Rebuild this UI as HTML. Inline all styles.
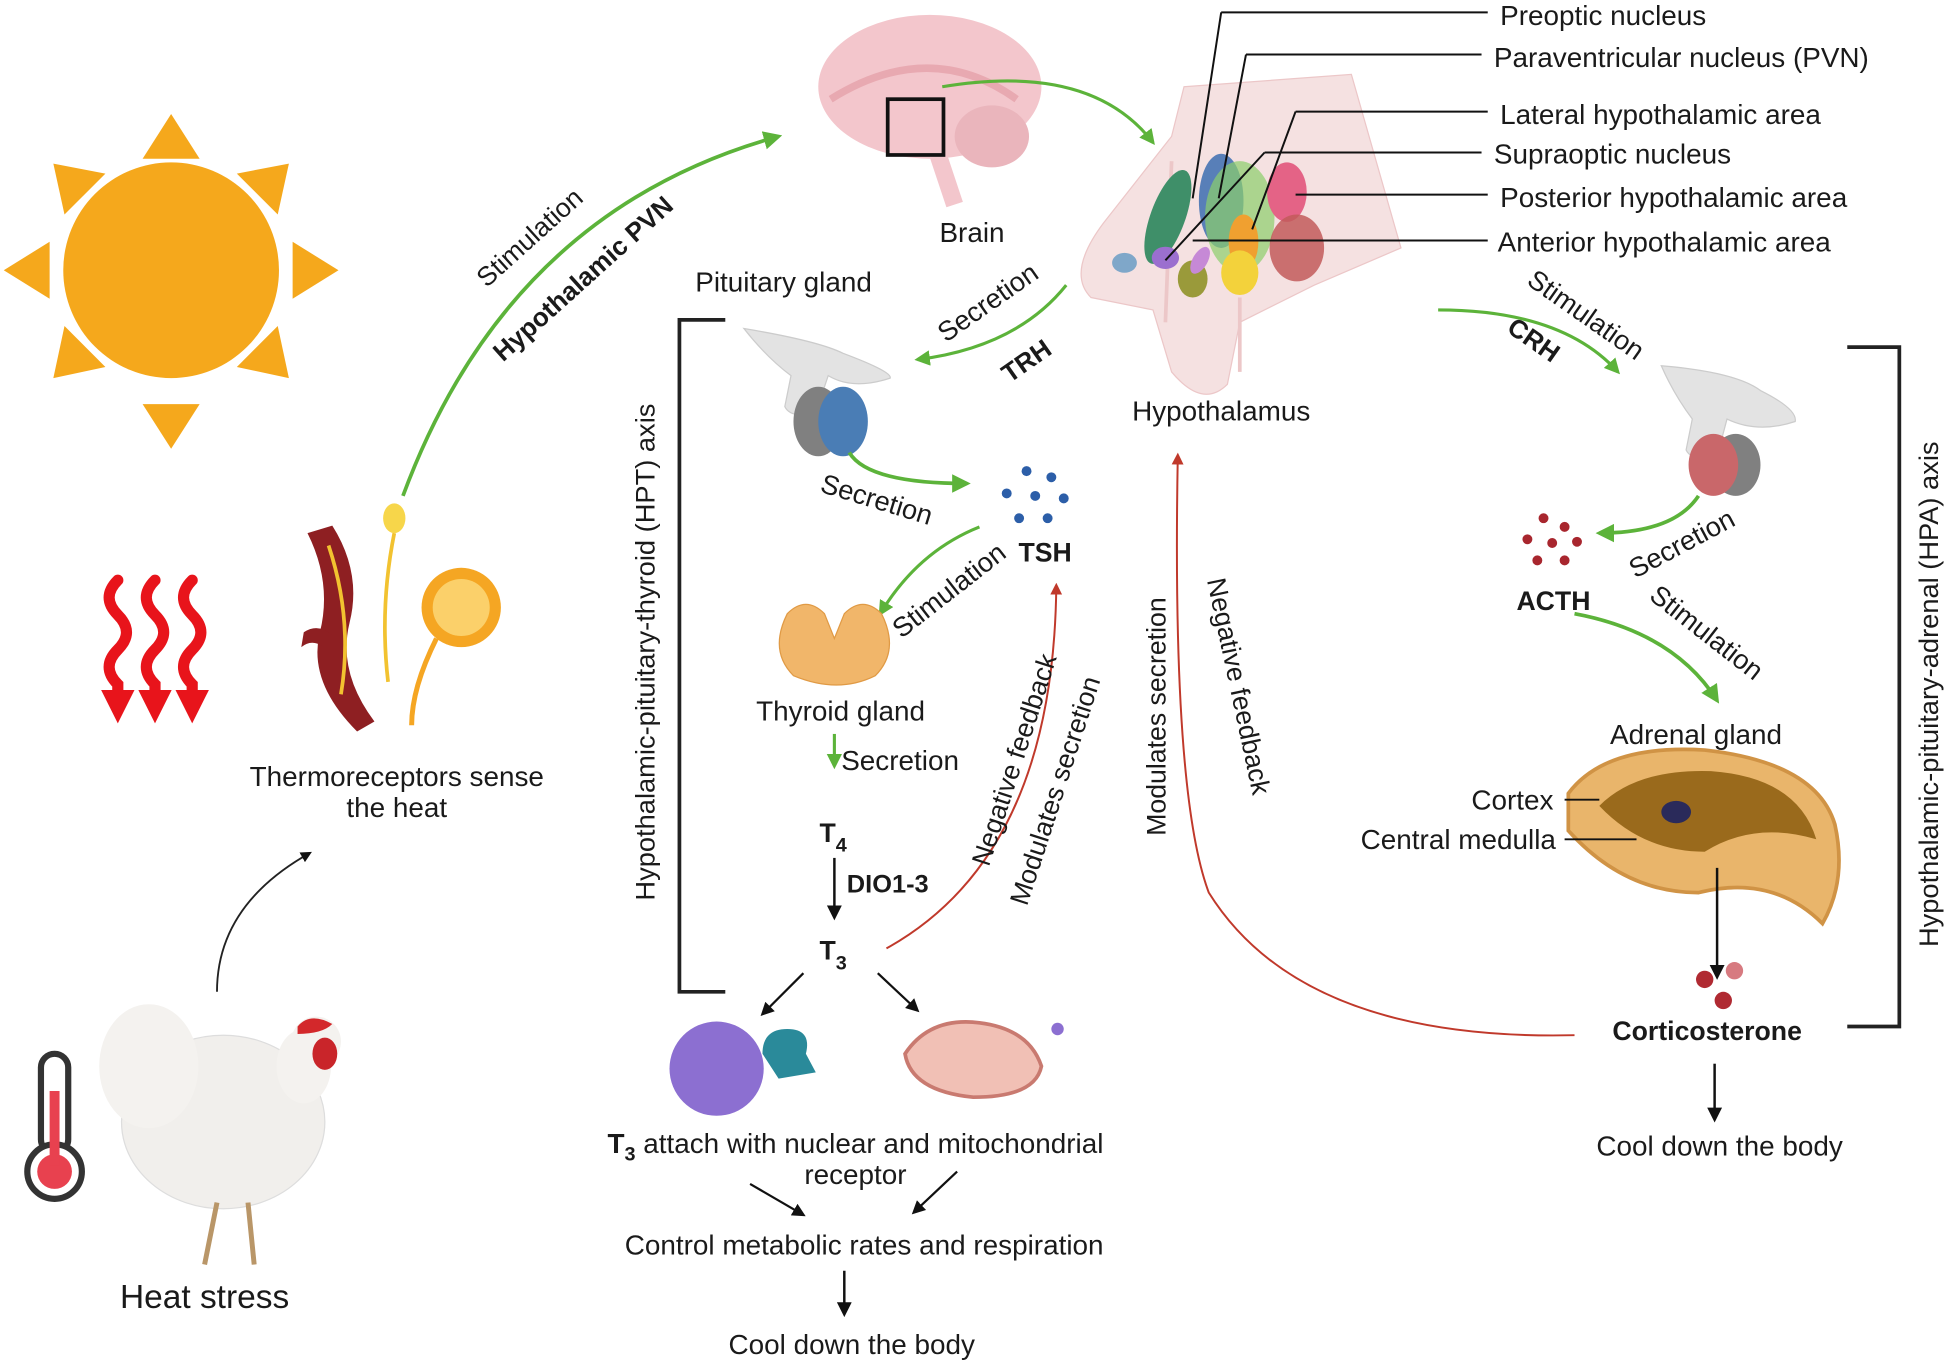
<!DOCTYPE html>
<html><head><meta charset="utf-8"><style>
html,body{margin:0;padding:0;background:#fff;}
svg{display:block;font-family:"Liberation Sans",Arial,sans-serif;}
text{fill:#1a1a1a;}
.b{font-weight:bold;}
</style></head><body>
<svg width="1944" height="1361" viewBox="0 0 1568 1097.8" xmlns="http://www.w3.org/2000/svg">
<defs>
<marker id="ga" viewBox="0 0 10 10" refX="8" refY="5" markerWidth="5" markerHeight="5" orient="auto"><path d="M0,0L10,5L0,10z" fill="#5cb33a"/></marker>
<marker id="ka" viewBox="0 0 10 10" refX="8" refY="5" markerWidth="6" markerHeight="6" orient="auto"><path d="M0,0L10,5L0,10z" fill="#111"/></marker>
<marker id="ra" viewBox="0 0 10 10" refX="8" refY="5" markerWidth="6" markerHeight="6" orient="auto"><path d="M0,0L10,5L0,10z" fill="#c0392b"/></marker>
<marker id="wa" viewBox="0 0 10 10" refX="5" refY="5" markerWidth="3" markerHeight="3" orient="auto"><path d="M0,0L10,5L0,10z" fill="#e8141b"/></marker>
</defs>

<circle cx="138" cy="218" r="87" fill="#f5a81c"/>
<g fill="#f5a81c">
<polygon points="138,92 115,128 161,128"/>
<polygon points="138,362 115,326 161,326"/>
<polygon points="3,218 40,195 40,241"/>
<polygon points="273,218 236,195 236,241"/>
<polygon points="43,132 85,140 52,173"/>
<polygon points="233,132 191,140 224,173"/>
<polygon points="43,305 52,263 85,296"/>
<polygon points="233,305 224,263 191,296"/>
</g>

<g fill="none" stroke="#e8141b" stroke-width="9" stroke-linecap="round">
<path d="M95,468 q-14,14 0,28 q14,14 0,28 q-14,14 0,28 L95,570" marker-end="url(#wa)"/>
<path d="M125,468 q-14,14 0,28 q14,14 0,28 q-14,14 0,28 L125,570" marker-end="url(#wa)"/>
<path d="M155,468 q-14,14 0,28 q14,14 0,28 q-14,14 0,28 L155,570" marker-end="url(#wa)"/>
</g>

<path d="M248,430 q20,40 10,80 q-10,40 30,80 l14,-8 q-30,-40 -20,-80 q10,-40 -14,-78z" fill="#8e1f22"/>
<path d="M245,510 q15,-10 30,10 l-6,10 q-14,-18 -26,-8z" fill="#8e1f22"/>
<path d="M265,440 q20,60 10,120" stroke="#f2c230" stroke-width="3" fill="none"/>
<path d="M318,430 q-12,60 -5,120" stroke="#f2c230" stroke-width="3" fill="none"/>
<ellipse cx="318" cy="418" rx="9" ry="12" fill="#f7d64a"/>
<circle cx="372" cy="490" r="32" fill="#f5a623"/>
<circle cx="372" cy="490" r="23" fill="#fbd06a"/>
<path d="M352,515 q-20,40 -20,70" stroke="#f5a623" stroke-width="4" fill="none"/>
<text x="320" y="634" font-size="22.5" text-anchor="middle">Thermoreceptors sense</text>
<text x="320" y="659" font-size="22.5" text-anchor="middle">the heat</text>
<path d="M175,800 q0,-70 75,-112" stroke="#222" stroke-width="1.5" fill="none" marker-end="url(#ka)"/>

<ellipse cx="180" cy="905" rx="82" ry="70" fill="#f1efec" stroke="#ddd"/>
<ellipse cx="120" cy="860" rx="40" ry="50" fill="#f4f2ef"/>
<ellipse cx="245" cy="860" rx="22" ry="30" fill="#f4f2ef"/>
<circle cx="255" cy="840" r="20" fill="#f4f2ef"/>
<path d="M240,828 q10,-12 28,-2 q-8,8 -28,8z" fill="#d3282b"/>
<ellipse cx="262" cy="850" rx="10" ry="13" fill="#c9252a"/>
<path d="M175,970 l-10,50 M200,970 l5,50" stroke="#b99668" stroke-width="4"/>
<rect x="33" y="850" width="22" height="80" rx="11" fill="#fff" stroke="#333" stroke-width="5"/>
<circle cx="44" cy="945" r="22" fill="#fff" stroke="#333" stroke-width="5"/>
<circle cx="44" cy="945" r="14" fill="#e8414f"/>
<rect x="40" y="880" width="8" height="60" fill="#e8414f"/>
<text x="165" y="1055" font-size="27" text-anchor="middle">Heat stress</text>

<path d="M325,400 Q410,170 628,110" stroke="#5cb33a" stroke-width="3" fill="none" marker-end="url(#ga)"/>
<text transform="translate(432,197) rotate(-42)" font-size="21.5" text-anchor="middle">Stimulation</text>
<text transform="translate(475,230) rotate(-42)" font-size="21" class="b" text-anchor="middle">Hypothalamic PVN</text>

<ellipse cx="750" cy="70" rx="90" ry="58" fill="#f3c6cc"/>
<path d="M670,80 q80,-50 150,0" stroke="#e8a9b1" stroke-width="6" fill="none"/>
<ellipse cx="800" cy="110" rx="30" ry="25" fill="#eab5bc"/>
<path d="M755,120 q10,30 15,45" stroke="#f3c6cc" stroke-width="14" fill="none"/>
<rect x="716" y="80" width="45" height="45" fill="none" stroke="#111" stroke-width="3"/>
<text x="784" y="195" font-size="22.5" text-anchor="middle">Brain</text>
<path d="M760,70 Q880,50 930,115" stroke="#5cb33a" stroke-width="2.5" fill="none" marker-end="url(#ga)"/>

<path d="M955,70 L1090,60 L1130,200 L1060,230 L1000,260 L990,310 Q970,330 945,300 L930,250 L880,240 Q860,220 890,180 L945,110z" fill="#f5e1e1" stroke="#ecc7c8"/>
<path d="M945,130 L940,260 M1000,240 L1000,300" stroke="#ecc7c8" stroke-width="3"/>
<ellipse cx="942" cy="175" rx="14" ry="40" fill="#3f8f69" transform="rotate(20 942 175)"/>
<ellipse cx="985" cy="162" rx="18" ry="38" fill="#3c6db0" opacity=".85"/>
<ellipse cx="1000" cy="175" rx="28" ry="45" fill="#8ccf6b" opacity=".7"/>
<ellipse cx="1003" cy="195" rx="12" ry="22" fill="#f0a030"/>
<ellipse cx="1000" cy="220" rx="15" ry="18" fill="#f3d23b"/>
<ellipse cx="1038" cy="155" rx="16" ry="24" fill="#e46386"/>
<ellipse cx="1046" cy="200" rx="22" ry="27" fill="#c25a5a" opacity=".85"/>
<ellipse cx="962" cy="225" rx="12" ry="15" fill="#9a9a3a"/>
<ellipse cx="907" cy="212" rx="10" ry="8" fill="#7fa7c9"/>
<ellipse cx="940" cy="208" rx="11" ry="9" fill="#9b6fcf"/>
<ellipse cx="968" cy="210" rx="6" ry="12" fill="#c689d6" transform="rotate(30 968 210)"/>
<g stroke="#111" stroke-width="1.6" fill="none">
<path d="M985,10 L1200,10 M985,10 L962,160"/>
<path d="M1005,44 L1195,44 M1005,44 L983,160"/>
<path d="M1045,90 L1200,90 M1045,90 L1010,185"/>
<path d="M1020,123 L1195,123 M1020,123 L940,210"/>
<path d="M1045,157 L1200,157"/>
<path d="M962,194 L1200,194"/>
</g>
<g font-size="22.5">
<text x="1210" y="20">Preoptic nucleus</text>
<text x="1205" y="54">Paraventricular nucleus (PVN)</text>
<text x="1210" y="100">Lateral hypothalamic area</text>
<text x="1205" y="132">Supraoptic nucleus</text>
<text x="1210" y="167">Posterior hypothalamic area</text>
<text x="1208" y="203">Anterior hypothalamic area</text>
</g>
<text x="985" y="339" font-size="22.5" text-anchor="middle">Hypothalamus</text>

<text x="632" y="235" font-size="22.5" text-anchor="middle">Pituitary gland</text>
<path d="M585,258 L548,258 L548,800 L585,800" stroke="#222" stroke-width="3" fill="none"/>
<text transform="translate(528,526) rotate(-90)" font-size="22" text-anchor="middle">Hypothalamic-pituitary-thyroid (HPT) axis</text>
<path d="M600,265 q60,10 80,20 q40,15 38,20 q-30,10 -50,-2 l-10,30 q-20,5 -25,-5 l5,-25 q-20,-15 -38,-38z" fill="#e3e3e3" stroke="#ccc"/>
<ellipse cx="660" cy="340" rx="20" ry="28" fill="#808080"/>
<ellipse cx="680" cy="340" rx="20" ry="28" fill="#4a7db5"/>
<path d="M860,230 Q820,280 740,290" stroke="#5cb33a" stroke-width="2.5" fill="none" marker-end="url(#ga)"/>
<text transform="translate(801,250) rotate(-35)" font-size="22" text-anchor="middle">Secretion</text>
<text transform="translate(832,297) rotate(-35)" font-size="21" class="b" text-anchor="middle">TRH</text>
<path d="M685,365 Q700,390 780,390" stroke="#5cb33a" stroke-width="3" fill="none" marker-end="url(#ga)"/>
<text transform="translate(705,410) rotate(17)" font-size="22" text-anchor="middle">Secretion</text>
<g fill="#2c5ea8"><circle cx="828" cy="380" r="4"/><circle cx="848" cy="385" r="4"/><circle cx="812" cy="398" r="4"/><circle cx="835" cy="400" r="4"/><circle cx="858" cy="402" r="4"/><circle cx="822" cy="418" r="4"/><circle cx="845" cy="418" r="4"/></g>
<text x="843" y="453" font-size="21.5" class="b" text-anchor="middle">TSH</text>
<path d="M790,425 Q740,445 710,495" stroke="#5cb33a" stroke-width="2.5" fill="none" marker-end="url(#ga)"/>
<text transform="translate(770,482) rotate(-38)" font-size="22" text-anchor="middle">Stimulation</text>
<path d="M635,495 q15,-15 30,0 l8,20 l8,-20 q15,-15 30,0 q15,30 -5,50 q-30,15 -66,0 q-20,-20 -5,-50z" fill="#f1b66a" stroke="#e09a45"/>
<text x="678" y="581" font-size="22.5" text-anchor="middle">Thyroid gland</text>
<path d="M673,592 L673,618" stroke="#5cb33a" stroke-width="2.5" marker-end="url(#ga)"/>
<text x="726" y="621" font-size="22.5" text-anchor="middle">Secretion</text>
<text x="661" y="679" font-size="21.5" class="b">T<tspan font-size="16" dy="8">4</tspan></text>
<path d="M673,692 L673,740" stroke="#111" stroke-width="2" marker-end="url(#ka)"/>
<text x="683" y="720" font-size="20.5" class="b">DIO1-3</text>
<text x="661" y="774" font-size="21.5" class="b">T<tspan font-size="16" dy="8">3</tspan></text>
<path d="M648,785 L615,818" stroke="#111" stroke-width="1.8" marker-end="url(#ka)"/>
<path d="M708,785 L740,815" stroke="#111" stroke-width="1.8" marker-end="url(#ka)"/>
<circle cx="578" cy="862" r="38" fill="#8c6fd1"/>
<path d="M615,850 q0,-20 20,-20 q20,0 15,20 l8,15 l-30,5 z" fill="#2a8a9a"/>
<path d="M730,850 q20,-30 60,-25 q40,5 50,35 q-5,25 -55,25 q-50,-5 -55,-35z" fill="#f1c0b5" stroke="#c97a70" stroke-width="3"/>
<circle cx="853" cy="830" r="5" fill="#8c6fd1"/>
<text x="690" y="930" font-size="22.5" text-anchor="middle"><tspan class="b">T<tspan font-size="16" dy="6">3</tspan></tspan><tspan dy="-6"> attach with nuclear and mitochondrial</tspan></text>
<text x="690" y="955" font-size="22.5" text-anchor="middle">receptor</text>
<path d="M605,955 L648,980" stroke="#111" stroke-width="1.8" marker-end="url(#ka)"/>
<path d="M772,945 L737,978" stroke="#111" stroke-width="1.8" marker-end="url(#ka)"/>
<text x="697" y="1012" font-size="22.5" text-anchor="middle">Control metabolic rates and respiration</text>
<path d="M681,1025 L681,1060" stroke="#111" stroke-width="2" marker-end="url(#ka)"/>
<text x="687" y="1092" font-size="22.5" text-anchor="middle">Cool down the body</text>

<path d="M715,765 Q850,690 852,472" stroke="#c0392b" stroke-width="1.6" fill="none" marker-end="url(#ra)"/>
<text transform="translate(825,615) rotate(-72)" font-size="21.5" text-anchor="middle">Negative feedback</text>
<text transform="translate(858,640) rotate(-72)" font-size="21.5" text-anchor="middle">Modulates secretion</text>
<path d="M1270,835 Q1050,840 975,720 Q945,640 950,367" stroke="#c0392b" stroke-width="1.6" fill="none" marker-end="url(#ra)"/>
<text transform="translate(940,578) rotate(-90)" font-size="21.5" text-anchor="middle">Modulates secretion</text>
<text transform="translate(992,555) rotate(78)" font-size="21.5" text-anchor="middle">Negative feedback</text>

<path d="M1160,250 Q1260,250 1305,300" stroke="#5cb33a" stroke-width="2.5" fill="none" marker-end="url(#ga)"/>
<text transform="translate(1275,260) rotate(35)" font-size="22" text-anchor="middle">Stimulation</text>
<text transform="translate(1233,280) rotate(35)" font-size="21" class="b" text-anchor="middle">CRH</text>
<path d="M1490,280 L1532,280 L1532,828 L1490,828" stroke="#222" stroke-width="3" fill="none"/>
<text transform="translate(1563,560) rotate(-90)" font-size="22" text-anchor="middle">Hypothalamic-pituitary-adrenal (HPA) axis</text>
<path d="M1340,295 q60,5 80,20 q30,15 28,25 q-30,10 -55,-2 l-8,30 q-20,5 -25,-5 l5,-25 q-15,-20 -25,-43z" fill="#e3e3e3" stroke="#ccc"/>
<ellipse cx="1400" cy="375" rx="20" ry="25" fill="#808080"/>
<ellipse cx="1382" cy="375" rx="20" ry="25" fill="#c9676a"/>
<g fill="#a8262e"><circle cx="1245" cy="418" r="4"/><circle cx="1262" cy="425" r="4"/><circle cx="1232" cy="435" r="4"/><circle cx="1252" cy="438" r="4"/><circle cx="1272" cy="437" r="4"/><circle cx="1240" cy="452" r="4"/><circle cx="1262" cy="452" r="4"/></g>
<path d="M1370,400 Q1350,430 1290,430" stroke="#5cb33a" stroke-width="3" fill="none" marker-end="url(#ga)"/>
<text transform="translate(1360,445) rotate(-28)" font-size="22" text-anchor="middle">Secretion</text>
<text x="1253" y="492" font-size="21.5" class="b" text-anchor="middle">ACTH</text>
<path d="M1270,495 Q1350,510 1385,565" stroke="#5cb33a" stroke-width="3" fill="none" marker-end="url(#ga)"/>
<text transform="translate(1372,516) rotate(38)" font-size="22" text-anchor="middle">Stimulation</text>
<text x="1368" y="600" font-size="22.5" text-anchor="middle">Adrenal gland</text>
<path d="M1265,640 q30,-40 110,-35 q90,10 105,60 q10,45 -10,80 q-40,-40 -100,-25 q-60,0 -105,-50z" fill="#e9b56b" stroke="#d09345" stroke-width="3"/>
<path d="M1290,650 q30,-30 90,-28 q70,5 85,55 q-50,-15 -90,10 q-50,0 -85,-37z" fill="#9a6a1c"/>
<ellipse cx="1352" cy="655" rx="12" ry="9" fill="#2a2a5a"/>
<g stroke="#111" stroke-width="1.5"><path d="M1262,645 L1290,645"/><path d="M1262,677 L1320,677"/></g>
<text x="1253" y="653" font-size="22.5" text-anchor="end">Cortex</text>
<text x="1255" y="685" font-size="22.5" text-anchor="end">Central medulla</text>
<path d="M1385,700 L1385,788" stroke="#111" stroke-width="2" marker-end="url(#ka)"/>
<circle cx="1375" cy="790" r="7" fill="#b02a32"/><circle cx="1399" cy="783" r="7" fill="#d77a80"/><circle cx="1390" cy="807" r="7" fill="#b02a32"/>
<text x="1377" y="839" font-size="21.5" class="b" text-anchor="middle">Corticosterone</text>
<path d="M1383,858 L1383,903" stroke="#111" stroke-width="2" marker-end="url(#ka)"/>
<text x="1387" y="932" font-size="22.5" text-anchor="middle">Cool down the body</text>
</svg>
</body></html>
